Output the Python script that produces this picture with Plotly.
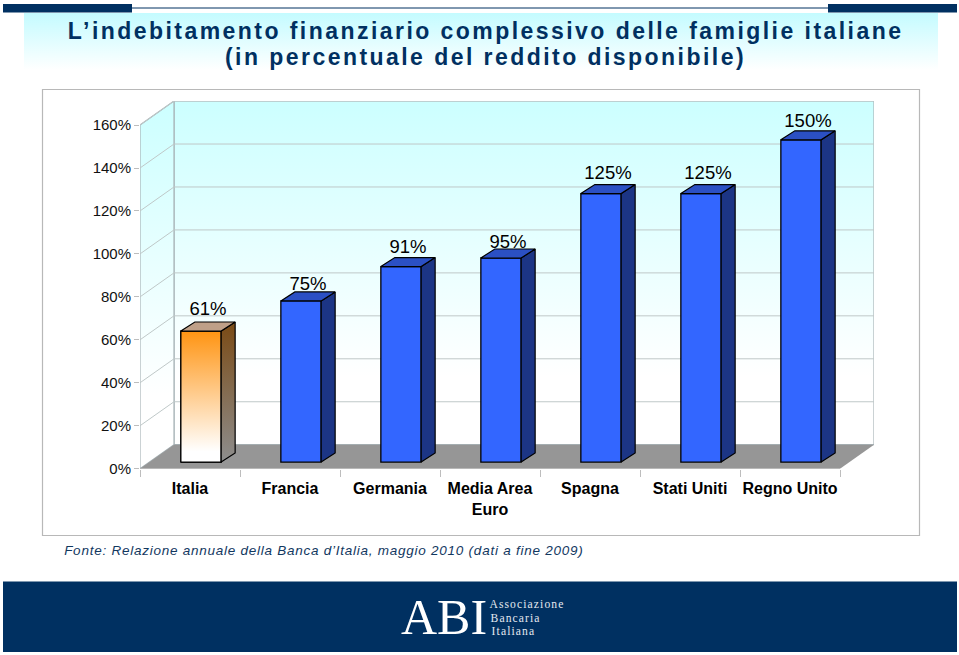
import plotly.graph_objects as go

# ---- data
categories = ["Italia", "Francia", "Germania", "Media Area<br>Euro", "Spagna", "Stati Uniti", "Regno Unito"]
values = [61, 75, 91, 95, 125, 125, 150]
y_ticks = [0, 20, 40, 60, 80, 100, 120, 140, 160]
title_lines = ["L\u2019indebitamento finanziario complessivo delle famiglie italiane",
               "(in percentuale del reddito disponibile)"]
source = "Fonte: Relazione annuale della Banca d\u2019Italia, maggio 2010 (dati a fine 2009)"

W, H = 959, 655
NAVY = "#003061"
BLUE, BLUE_SIDE, BLUE_TOP = "#3366FF", "#1C3585", "#2B50C4"

# 3-D look expressed in axis units (1 x unit = one category, y unit = percent)
WALL_DX, WALL_DY = 0.34, 11.17
BAR_DX, BAR_DY = 0.14, 4.2
BAR_W, BAR_OFF, BAR_BASE = 0.403, 0.61, 3.1
Y_MAX = 171.2
N = len(categories)
X_MAX = N + WALL_DX
LABEL_LIFT = [12.5, 10.2, 11.6, 9.7, 12, 12, 11.1]


def vgrad(top, bottom, mid=None):
    scale = [[0, bottom], [1, top]] if mid is None else [[0, bottom], [mid[0], mid[1]], [1, top]]
    return dict(type="vertical", colorscale=scale)


def poly(xs, ys, fill=None, grad=None, line=None, width=1, xa="x2", ya="y2"):
    t = dict(x=list(xs) + [xs[0]], y=list(ys) + [ys[0]], mode="lines", xaxis=xa, yaxis=ya,
             hoverinfo="skip", showlegend=False, cliponaxis=False,
             line=dict(color=line or "rgba(0,0,0,0)", width=width), fill="toself")
    if grad:
        t["fillgradient"] = grad
    else:
        t["fillcolor"] = fill
    return go.Scatter(**t)


def seg(xs, ys, color, width=1, xa="x2", ya="y2"):
    return go.Scatter(x=xs, y=ys, mode="lines", xaxis=xa, yaxis=ya, hoverinfo="skip", showlegend=False,
                      cliponaxis=False, line=dict(color=color, width=width))


fig = go.Figure()

# page band behind the title (page axes run downward, so the stops are swapped)
fig.add_trace(poly([24, 938, 938, 24], [13, 13, 70, 70], grad=vgrad("#C4FBFF", "#FFFFFF"), xa="x", ya="y"))

# walls and floor
wall_grad = vgrad("#CCFFFF", "#FFFFFF", (0.2, "#FFFFFF"))
fig.add_trace(poly([WALL_DX, X_MAX, X_MAX, WALL_DX], [WALL_DY, WALL_DY, Y_MAX, Y_MAX], grad=wall_grad,
                   line="#A8B4B8", width=1.2))
fig.add_trace(poly([0, WALL_DX, WALL_DX, 0], [0, WALL_DY, Y_MAX, 160], grad=wall_grad, line="#A8B4B8", width=1.2))
for v in y_ticks[1:]:
    fig.add_trace(seg([0, WALL_DX, X_MAX], [v, v + WALL_DY, v + WALL_DY], "#BFC8C8", 1))
fig.add_trace(poly([0, N, X_MAX, WALL_DX], [0, 0, WALL_DY, WALL_DY], fill="#969696"))
fig.add_trace(seg([0, N], [0, 0], "#B4B4B4", 1.2))

# bars: native front faces
fig.add_trace(go.Bar(x=[i + BAR_OFF for i in range(N)], y=values, base=BAR_BASE, width=BAR_W,
                     marker=dict(color=["#FFFFFF"] + [BLUE] * (N - 1), line=dict(color="#000000", width=1.3)),
                     xaxis="x3", yaxis="y3", hoverinfo="skip", showlegend=False))

for i, v in enumerate(values):
    l, r = i + BAR_OFF - BAR_W / 2, i + BAR_OFF + BAR_W / 2
    b, t = BAR_BASE, BAR_BASE + v
    if i == 0:
        side = dict(grad=vgrad("#7A4A14", "#8E8E8E"))
        top = dict(fill="#BFA088")
        front = dict(grad=vgrad("#FF9412", "#FFFFFF", (0.08, "#FFFFFF")))
        fig.add_trace(poly([l, r, r, l], [b, b, t, t], line="#000000", width=1.3, xa="x3", ya="y3", **front))
    else:
        side = dict(fill=BLUE_SIDE)
        top = dict(fill=BLUE_TOP)
    fig.add_trace(poly([r, r + BAR_DX, r + BAR_DX, r], [b, b + BAR_DY, t + BAR_DY, t],
                       line="#000000", width=1.2, xa="x3", ya="y3", **side))
    fig.add_trace(poly([l, r, r + BAR_DX, l + BAR_DX], [t, t, t + BAR_DY, t + BAR_DY],
                       line="#000000", width=1.2, xa="x3", ya="y3", **top))

# value labels
fig.add_trace(go.Scatter(x=[i + BAR_OFF + BAR_DX / 2 for i in range(N)],
                         y=[v + lift for v, lift in zip(values, LABEL_LIFT)],
                         text=[f"{v}%" for v in values], mode="text", textposition="middle center",
                         textfont=dict(family="Liberation Sans", size=18.5, color="#000000"),
                         xaxis="x3", yaxis="y3", hoverinfo="skip", showlegend=False, cliponaxis=False))


def px(x):
    return x / W


def py(y):
    return 1 - y / H


shapes = [
    dict(type="rect", xref="paper", yref="paper", x0=px(42.5), x1=px(919.5), y0=py(535.5), y1=py(89.5),
         line=dict(color="#B8B8B8", width=1.2), fillcolor="#FFFFFF", layer="below"),
    dict(type="rect", xref="paper", yref="paper", x0=px(3), x1=px(132), y0=py(12.5), y1=py(4),
         line=dict(width=0), fillcolor=NAVY, layer="below"),
    dict(type="rect", xref="paper", yref="paper", x0=px(828), x1=px(957), y0=py(12.5), y1=py(4),
         line=dict(width=0), fillcolor=NAVY, layer="below"),
    dict(type="line", xref="paper", yref="paper", x0=px(132), x1=px(828), y0=py(8), y1=py(8),
         line=dict(color=NAVY, width=1), layer="below"),
    dict(type="rect", xref="paper", yref="paper", x0=px(3), x1=px(957), y0=py(652), y1=py(581.5),
         line=dict(width=0), fillcolor=NAVY, layer="below"),
]


def note(text, x, y, size, color, family="Liberation Sans", **font):
    return dict(text=text, xref="paper", yref="paper", x=px(x), y=py(y), showarrow=False, xanchor="center",
                yanchor="middle", font=dict(family=family, size=size, color=color, **font))


annotations = [
    note(title_lines[0], 485, 31, 23, NAVY, weight="bold"),
    note(title_lines[1], 485, 57, 23, NAVY, weight="bold"),
    note(source, 324, 550, 13.5, "#12385F", style="italic"),
    note("ABI", 444, 617, 50, "#FFFFFF", family="Liberation Serif"),
    note("Associazione", 526.7, 604.5, 11.6, "#E4E9F0", family="Liberation Serif"),
    note("Bancaria", 515, 618, 11.6, "#E4E9F0", family="Liberation Serif"),
    note("Italiana", 513, 631.5, 11.6, "#E4E9F0", family="Liberation Serif"),
]

dom_x = [px(140), px(140 + 734)]
dom_y = [py(468.7), py(101)]

fig.update_layout(
    width=W, height=H, margin=dict(l=0, r=0, t=0, b=0), autosize=False,
    paper_bgcolor="#FFFFFF", plot_bgcolor="rgba(0,0,0,0)", showlegend=False,
    shapes=shapes, annotations=annotations,
    xaxis=dict(domain=[0, 1], range=[0, W], visible=False, fixedrange=True, automargin=False),
    yaxis=dict(domain=[0, 1], range=[H, 0], visible=False, fixedrange=True, automargin=False),
    xaxis2=dict(domain=dom_x, range=[0, X_MAX], anchor="y2", showgrid=False, zeroline=False, showline=False,
                automargin=False,
                tickmode="array", tickvals=[i + 0.5 for i in range(N)], ticktext=categories,
                ticks="outside", ticklen=5, tickcolor="rgba(0,0,0,0)",
                tickfont=dict(family="Liberation Sans", size=16, color="#000000", weight="bold"),
                minor=dict(tickmode="array", tickvals=list(range(N + 1)), ticks="outside", ticklen=7,
                           tickcolor="#BDBDBD", tickwidth=1)),
    yaxis2=dict(domain=dom_y, range=[0, Y_MAX], anchor="x2", showgrid=False, zeroline=False, showline=False,
                automargin=False,
                tickmode="array", tickvals=y_ticks, ticktext=[f"{v}%" for v in y_ticks],
                ticks="outside", ticklen=5, tickcolor="#BDBDBD", tickwidth=1,
                tickfont=dict(family="Liberation Sans", size=15, color="#111111")),
    xaxis3=dict(range=[0, X_MAX], overlaying="x2", anchor="y3", visible=False, automargin=False),
    yaxis3=dict(range=[0, Y_MAX], overlaying="y2", anchor="x3", visible=False, automargin=False),
)

spacing = """
document.documentElement.style.margin='0';
document.documentElement.style.overflow='hidden';
document.body.style.margin='0';
function applySpacing(){
  document.querySelectorAll('.annotation-text').forEach(function(t){
    var s=t.textContent, v=null;
    if(s.indexOf('indebitamento')>=0||s.indexOf('in percentuale')>=0) v='2.45px';
    else if(s.indexOf('Fonte')===0) v='0.75px';
    else if(s==='Associazione'||s==='Bancaria'||s==='Italiana') v='1.1px';
    if(v) t.style.letterSpacing=v;
  });
}
applySpacing(); setTimeout(applySpacing,50); setTimeout(applySpacing,300);
"""
fig.write_html("out.html", post_script=spacing, config=dict(displayModeBar=False, responsive=False),
               default_width="959px", default_height="655px")
